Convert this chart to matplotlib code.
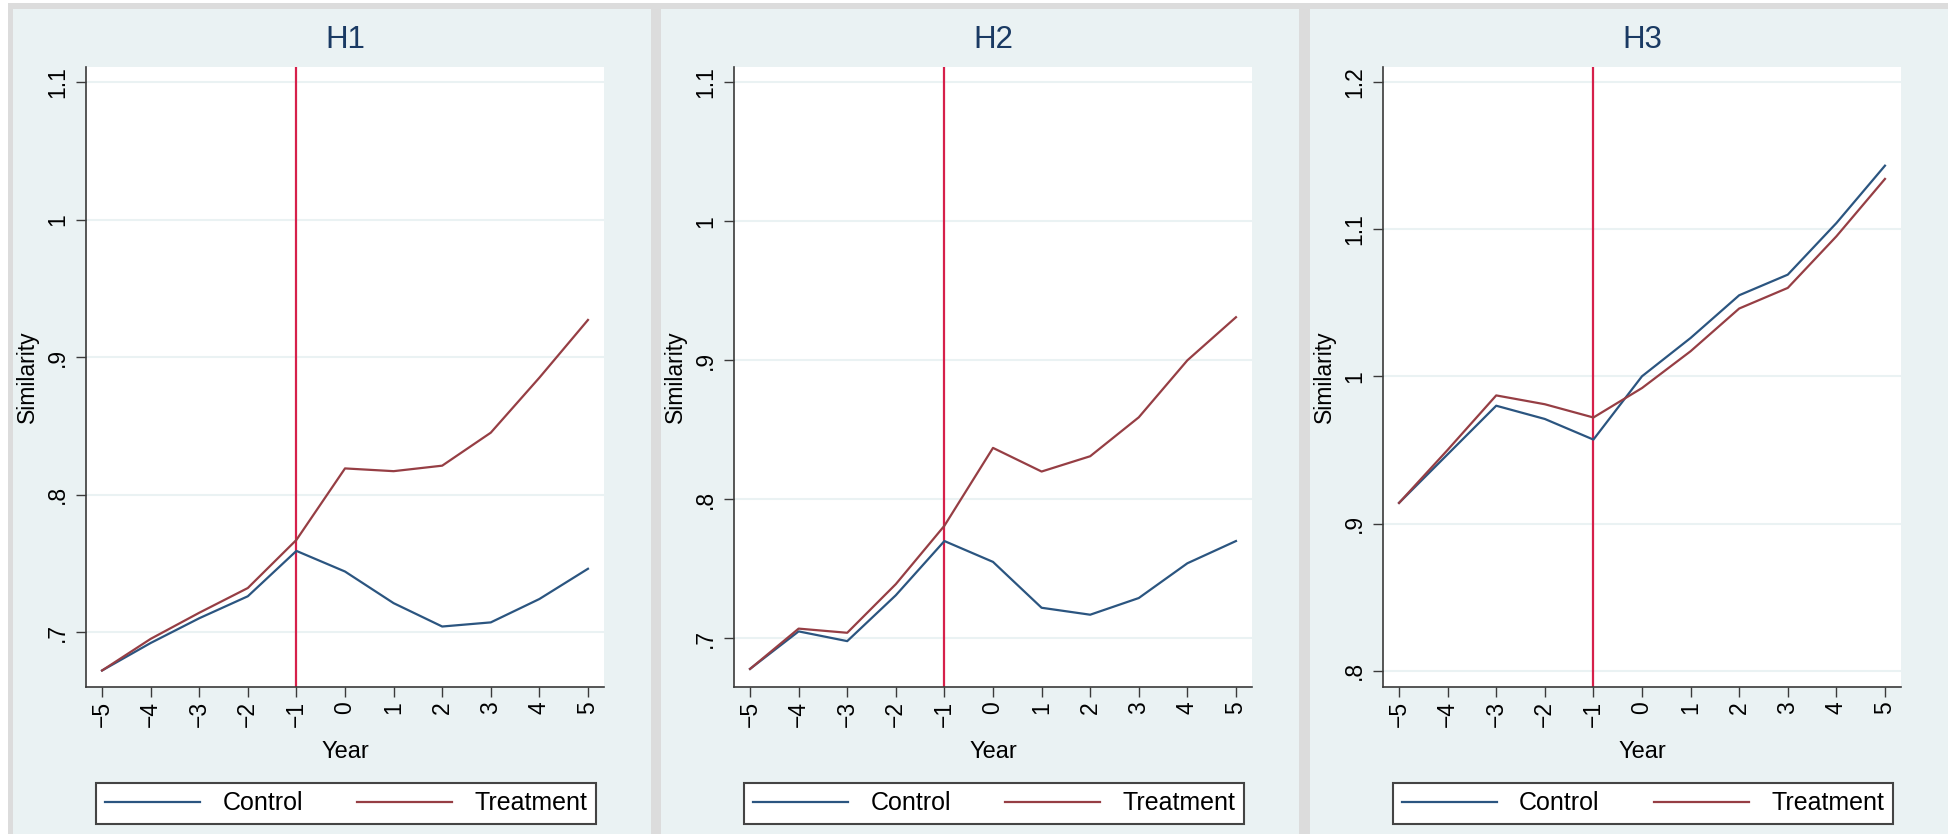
import numpy as np
import matplotlib.pyplot as plt
from matplotlib.patches import Rectangle

plt.rcParams['font.family'] = ['Liberation Sans', 'DejaVu Sans']

years = [-5, -4, -3, -2, -1, 0, 1, 2, 3, 4, 5]
year_labels = ["\u22125", "\u22124", "\u22123", "\u22122", "\u22121", "0", "1", "2", "3", "4", "5"]
titles = ["H1", "H2", "H3"]
series_names = ["Control", "Treatment"]

h1_control = [0.672, 0.692, 0.710, 0.726, 0.759, 0.744, 0.721, 0.704, 0.707, 0.724, 0.746]
h1_treatment = [0.672, 0.695, 0.714, 0.732, 0.767, 0.819, 0.817, 0.821, 0.845, 0.885, 0.927]
h2_control = [0.678, 0.705, 0.698, 0.731, 0.770, 0.755, 0.722, 0.717, 0.729, 0.754, 0.770]
h2_treatment = [0.678, 0.707, 0.704, 0.739, 0.781, 0.837, 0.820, 0.831, 0.859, 0.900, 0.931]
h3_control = [0.914, 0.947, 0.980, 0.971, 0.957, 1.000, 1.026, 1.055, 1.069, 1.104, 1.143]
h3_treatment = [0.914, 0.950, 0.987, 0.981, 0.972, 0.992, 1.017, 1.046, 1.060, 1.095, 1.134]

y_ticks = [
    [0.7, 0.8, 0.9, 1.0, 1.1],
    [0.7, 0.8, 0.9, 1.0, 1.1],
    [0.8, 0.9, 1.0, 1.1, 1.2],
]
y_tick_labels = [
    [".7", ".8", ".9", "1", "1.1"],
    [".7", ".8", ".9", "1", "1.1"],
    [".8", ".9", "1", "1.1", "1.2"],
]
y_limits = [(0.660, 1.111), (0.665, 1.111), (0.789, 1.210)]
event_year = -1

data = [(h1_control, h1_treatment), (h2_control, h2_treatment), (h3_control, h3_treatment)]

W, H = 1954, 834
fig = plt.figure(figsize=(W / 100, H / 100), dpi=100)
fig.patch.set_facecolor("white")

def fig_rect(x0, y0, x1, y1, color):
    fig.patches.append(Rectangle((x0 / W, 1 - y1 / H), (x1 - x0) / W, (y1 - y0) / H,
                                 transform=fig.transFigure, facecolor=color,
                                 edgecolor="none", zorder=-10))

panel_bg = "#EAF2F3"
fig_rect(8, 3, 1948, 834, "#DCDCDC")
panel_left = [13, 661, 1310]
panel_right = [651, 1299, 1948]
for pl, pr in zip(panel_left, panel_right):
    fig_rect(pl, 9, pr, 834, panel_bg)

navy = "#2b5580"
maroon = "#963e44"
title_color = "#1a3a63"
xline_color = "#d6204a"
axis_color = "#3a3a3a"

for i in range(3):
    left = panel_left[i] + 73
    top, bottom, width = 67, 687, 518
    ax = fig.add_axes([left / W, 1 - bottom / H, width / W, (bottom - top) / H])
    ax.set_facecolor("white")
    control, treatment = data[i]

    ax.plot(years, control, color=navy, lw=1.6, label=series_names[0], zorder=3)
    ax.plot(years, treatment, color=maroon, lw=1.6, label=series_names[1], zorder=3)
    ax.axvline(event_year, color=xline_color, lw=1.6, zorder=2)

    ax.set_xlim(-5.33, 5.33)
    ax.set_ylim(*y_limits[i])
    ax.set_xticks(years)
    ax.set_xticklabels(year_labels, rotation=90, fontsize=16.5)
    ax.set_yticks(y_ticks[i])
    ax.set_yticklabels(y_tick_labels[i], rotation=90, va="center", fontsize=16.5)
    ax.grid(axis="y", color="#EAF2F3", lw=1.5, zorder=0)
    ax.set_axisbelow(True)

    for s in ["top", "right"]:
        ax.spines[s].set_visible(False)
    for s in ["left", "bottom"]:
        ax.spines[s].set_color(axis_color)
        ax.spines[s].set_linewidth(1.2)
    ax.tick_params(axis="both", direction="out", length=7, width=1.0, color=axis_color)
    ax.tick_params(axis="y", pad=5)
    ax.tick_params(axis="x", pad=3)

    ax.set_title(titles[i], fontsize=22.5, color=title_color, pad=0, y=1.0)
    ax.title.set_position((0.5, (687 - 40) / 620))
    ax.title.set_va("center")

    ax.set_ylabel("Similarity", fontsize=16.5, va="center")
    ax.yaxis.set_label_coords((27 - 86) / 518, 0.5)
    ax.set_xlabel("Year", fontsize=17, va="center")
    ax.xaxis.set_label_coords(0.5, (687 - 752) / 620)

    leg = ax.legend(loc="center", ncol=2, mode="expand",
                    bbox_to_anchor=(10 / 518, (687 - 827) / 620, 500 / 518, 47 / 620),
                    borderaxespad=0, fontsize=18, handlelength=3.8, handletextpad=0.9,
                    fancybox=False, framealpha=1, edgecolor="#444444", borderpad=0.35)
    leg.get_frame().set_linewidth(1.5)

fig.savefig("out.png", dpi=100, facecolor=fig.get_facecolor())
